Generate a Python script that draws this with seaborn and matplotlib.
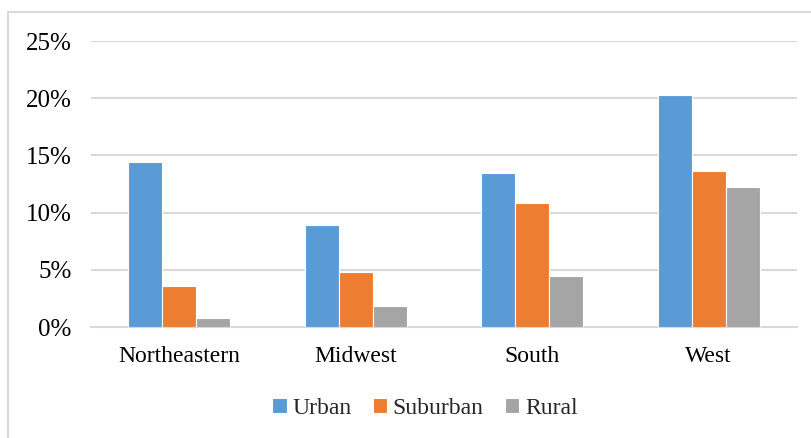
import pandas as pd
import numpy as np
import seaborn as sns
import matplotlib.pyplot as plt
from matplotlib.patches import Rectangle
from matplotlib.ticker import PercentFormatter

# データ
regions = ["Northeastern", "Midwest", "South", "West"]
urban = [14.45, 8.95, 13.45, 20.25]
suburban = [3.55, 4.85, 10.8, 13.65]
rural = [0.8, 1.8, 4.45, 12.25]
series_names = ["Urban", "Suburban", "Rural"]
colors = ["#5B9BD5", "#ED7D31", "#A5A5A5"]

df = pd.DataFrame({"region": regions, "Urban": urban, "Suburban": suburban, "Rural": rural})
df_long = df.melt(id_vars="region", var_name="type", value_name="value")

sns.set_style("white")
plt.rcParams['font.family'] = ['Liberation Serif', 'DejaVu Serif']

fig = plt.figure(figsize=(8.12, 4.38), dpi=100)
ax = fig.add_axes([91/812, 1 - 327/438, (797 - 91)/812, (327 - 41)/438])

sns.barplot(data=df_long, x="region", y="value", hue="type", hue_order=series_names,
            palette=colors, width=0.58, gap=0, saturation=1, ax=ax,
            edgecolor="white", linewidth=0.8, zorder=3)

ax.set_ylim(0, 25)
ax.set_yticks(np.arange(0, 26, 5))
ax.yaxis.set_major_formatter(PercentFormatter(decimals=0))
ax.grid(True, axis="y", color="#D9D9D9", linewidth=1.5, zorder=0)
ax.set_axisbelow(True)
for s in ["top", "right", "left"]:
    ax.spines[s].set_visible(False)
ax.spines["bottom"].set_color("#D9D9D9")
ax.spines["bottom"].set_linewidth(1.5)
ax.tick_params(axis="both", length=0, colors="black")
ax.tick_params(axis="y", pad=14, labelsize=18)
ax.tick_params(axis="x", pad=14, labelsize=17)
ax.set_xlabel("")
ax.set_ylabel("")

ax.legend(loc="center", bbox_to_anchor=(425 / 812, 1 - 408 / 438),
          bbox_transform=fig.transFigure, ncol=3, frameon=False, fontsize=17,
          handlelength=0.6, handleheight=0.6, handletextpad=0.25, columnspacing=0.9)

# 外枠
fig.add_artist(Rectangle((8/812, -0.05), 1.1, 1.05 - 12/438, transform=fig.transFigure,
                         fill=False, edgecolor="#D9D9D9", linewidth=1.5))

fig.savefig("out.png", dpi=100)
